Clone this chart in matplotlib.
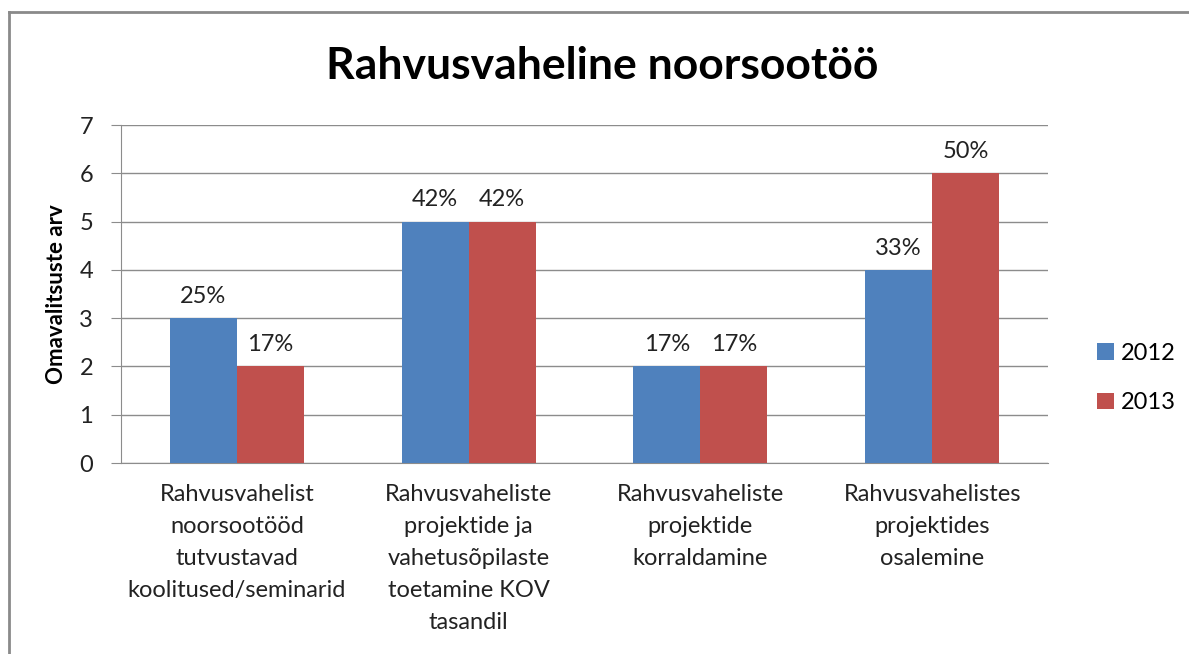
import matplotlib.pyplot as plt
import numpy as np

plt.rcParams['font.family'] = ['Lato', 'DejaVu Sans']

categories = [
    "Rahvusvahelist\nnoorsootööd\ntutvustavad\nkoolitused/seminarid",
    "Rahvusvaheliste\nprojektide ja\nvahetusõpilaste\ntoetamine KOV\ntasandil",
    "Rahvusvaheliste\nprojektide\nkorraldamine",
    "Rahvusvahelistes\nprojektides\nosalemine",
]
years = ["2012", "2013"]
values_2012 = [3, 5, 2, 4]
values_2013 = [2, 5, 2, 6]
labels_2012 = ["25%", "42%", "17%", "33%"]
labels_2013 = ["17%", "42%", "17%", "50%"]

blue = "#4F81BD"
red = "#C0504D"

fig = plt.figure(figsize=(11.89, 6.54), dpi=100)
ax = fig.add_axes([121 / 1189, 1 - 463 / 654, (1048 - 121) / 1189, (463 - 125) / 654])

x = np.arange(len(categories))
w = 0.289
b1 = ax.bar(x - w / 2, values_2012, w, color=blue, label=years[0], zorder=3)
b2 = ax.bar(x + w / 2, values_2013, w, color=red, label=years[1], zorder=3)

for bars, labs in ((b1, labels_2012), (b2, labels_2013)):
    for bar, lab in zip(bars, labs):
        ax.annotate(lab, (bar.get_x() + bar.get_width() / 2, bar.get_height()),
                    xytext=(0, 8), textcoords="offset points",
                    ha="center", va="bottom", fontsize=17, color="#222222")

ax.set_xlim(-0.5, len(categories) - 0.5)
ax.set_ylim(0, 7)
ax.set_yticks(range(0, 8))
ax.yaxis.grid(True, color="#8c8c8c", linewidth=1, zorder=0)
ax.set_axisbelow(True)

for s in ("top", "right"):
    ax.spines[s].set_visible(False)
ax.spines["left"].set_color("#8c8c8c")
ax.spines["bottom"].set_color("#8c8c8c")

ax.tick_params(axis="y", length=7, color="#8c8c8c", labelsize=17, pad=13, labelcolor="#222222")
ax.tick_params(axis="x", length=0, pad=15)
ax.set_xticks(x)
ax.set_xticklabels(categories, fontsize=17, color="#222222", linespacing=1.65)

ax.set_ylabel("Omavalitsuste arv", fontsize=16, fontweight="bold", labelpad=9)

fig.text(602 / 1189, 1 - 66 / 654, "Rahvusvaheline noorsootöö", ha="center", va="center",
         fontsize=32, fontweight="bold")

leg = fig.legend(loc="center left", bbox_to_anchor=(1076 / 1189, 1 - 378 / 654),
                 frameon=False, fontsize=17, handlelength=0.7, handleheight=0.7,
                 handletextpad=0.3, labelspacing=1.2)

# chart border (only top and left visible in the crop)
fig.add_artist(plt.Line2D([9 / 1189, 9 / 1189], [0, 1 - 12 / 654], color="#8a8a8a", linewidth=2))
fig.add_artist(plt.Line2D([9 / 1189, 1], [1 - 12 / 654, 1 - 12 / 654], color="#8a8a8a", linewidth=2))

fig.savefig("out.png", dpi=100)
